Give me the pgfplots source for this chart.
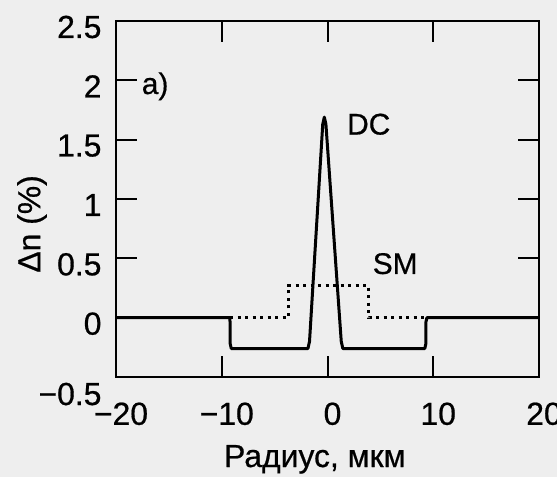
\documentclass[border=0pt]{standalone}
\usepackage{fontspec}
\setmainfont{Liberation Sans}[FakeBold=0.6]
\usepackage{pgfplots}
\pgfplotsset{compat=1.18}
\definecolor{bg}{gray}{0.935}
\begin{document}
\begin{tikzpicture}
\path[use as bounding box, fill=bg] (-116bp,-100bp) rectangle (441bp,377bp);
\begin{axis}[name=ax, at={(0,0)}, anchor=south west,
  scale only axis, width=423bp, height=356bp,
  xmin=-20, xmax=20, ymin=-0.5, ymax=2.5,
  xtick={-20,-10,0,10,20}, xticklabels={−20,−10,0,10,20},
  ytick={-0.5,0,0.5,1,1.5,2,2.5},
  yticklabels={\raisebox{-22bp}[0pt][0pt]{−0.5},0,0.5,1,1.5,2,2.5},
  tick align=inside, major tick length=21bp,
  tick style={line width=2bp, black},
  axis line style={line width=2.6bp},
  ticklabel style={font=\fontsize{32}{34}\selectfont},
  xticklabel style={yshift=-22bp, xshift=5bp},
  yticklabel style={yshift=-6bp, xshift=-11bp},
  xlabel={Радиус, мкм}, ylabel={Δn (\%)},
  label style={font=\fontsize{32}{34}\selectfont},
  xlabel style={at={(axis description cs:0.47,-0.2528)}, anchor=base},
  ylabel style={at={(axis description cs:-0.1986,0.43)}, anchor=center},
  clip=false,
]
% SM profile (dotted)
\addplot[black, line width=3bp, dash pattern=on 3bp off 4.5bp] coordinates {
  (-9.2,0) (-3.7,0) (-3.7,0.27) (3.9,0.27) (3.9,0) (9.3,0)
};
% DC profile (solid)
\addplot[black, line width=3bp, line join=round] coordinates {
  (-20,0) (-9.25,0) (-9.2,-0.05) (-9.2,-0.22) (-9.1,-0.26)
  (-1.85,-0.26) (-1.7,-0.2) (-0.45,1.63) (-0.3,1.69) (-0.15,1.63)
  (1.3,-0.2) (1.45,-0.26) (9.2,-0.26) (9.3,-0.22) (9.3,-0.04) (9.4,0) (20,0)
};
\node[font=\fontsize{30}{32}\selectfont] at (axis cs:3.9,1.63) {DC};
\node[font=\fontsize{30}{32}\selectfont] at (axis cs:6.4,0.455) {SM};
\node[font=\fontsize{30}{32}\selectfont] at (axis cs:-16.3,1.95) {a)};
\end{axis}
\end{tikzpicture}
\end{document}
